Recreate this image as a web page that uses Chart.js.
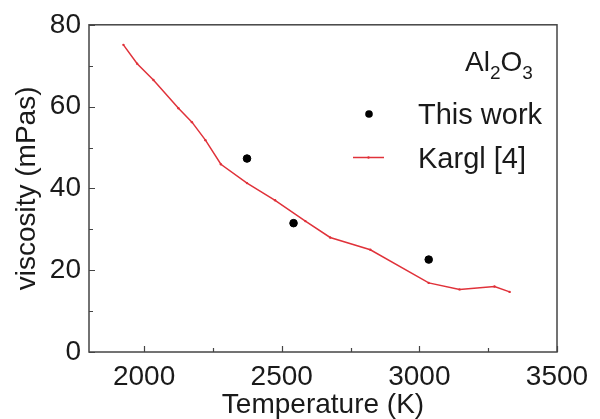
<!DOCTYPE html>
<html>
<head>
<meta charset="utf-8">
<script src="https://cdn.jsdelivr.net/npm/chart.js@4"></script>
<style>
    html, body { margin: 0; padding: 0; background: #fff; }
    #wrap { width: 600px; height: 419px; }
</style>
</head>
<body>
<div id="wrap"><canvas id="viscChart" width="600" height="419"></canvas></div>
<script>
// === Data ===
const karglTemp = [1925, 1975, 2034, 2125, 2174, 2223, 2279, 2374, 2476, 2586, 2676, 2822, 3034, 3146, 3273, 3328];
const karglVisc = [75.1, 70.5, 66.5, 59.6, 56.2, 51.8, 45.9, 41.3, 37.1, 32.0, 28.0, 25.0, 16.9, 15.3, 16.0, 14.7];

const workTemp = [2374, 2543, 3034];
const workVisc = [47.3, 31.5, 22.6];

const xMajorTicks = [2000, 2500, 3000, 3500];
const xMinorTicks = [2250, 2750, 3250];
const yMajorTicks = [0, 20, 40, 60, 80];
const yMinorTicks = [10, 30, 50, 70];

const FONT = "'Liberation Sans', Arial, sans-serif";
const TEXT_COLOR = "#1a1a1a";
const AXIS_COLOR = "#444";
const RED = "#e0323a";

function toPoints(xs, ys) {
    return xs.map((x, i) => ({ x: x, y: ys[i] }));
}

// ticks pointing inward + the box frame
const frameAndTicks = {
    id: "frameAndTicks",
    afterDraw(chart) {
        const ctx = chart.ctx;
        const area = chart.chartArea;
        const xs = chart.scales.x;
        const ys = chart.scales.y;
        ctx.save();
        ctx.strokeStyle = AXIS_COLOR;
        ctx.lineWidth = 1.5;
        ctx.strokeRect(area.left, area.top, area.right - area.left, area.bottom - area.top);

        ctx.lineWidth = 1.2;
        ctx.beginPath();
        xMajorTicks.forEach(v => {
            const px = Math.round(xs.getPixelForValue(v)) + 0.5;
            ctx.moveTo(px, area.bottom);
            ctx.lineTo(px, area.bottom - 6);
        });
        xMinorTicks.forEach(v => {
            const px = Math.round(xs.getPixelForValue(v)) + 0.5;
            ctx.moveTo(px, area.bottom);
            ctx.lineTo(px, area.bottom - 4);
        });
        yMajorTicks.forEach(v => {
            const py = Math.round(ys.getPixelForValue(v)) + 0.5;
            ctx.moveTo(area.left, py);
            ctx.lineTo(area.left + 6, py);
        });
        yMinorTicks.forEach(v => {
            const py = Math.round(ys.getPixelForValue(v)) + 0.5;
            ctx.moveTo(area.left, py);
            ctx.lineTo(area.left + 4, py);
        });
        ctx.stroke();
        ctx.restore();
    }
};

// sample label and legend in the upper right corner
const insetLegend = {
    id: "insetLegend",
    afterDraw(chart) {
        const ctx = chart.ctx;
        const work = chart.data.datasets[0];
        const kargl = chart.data.datasets[1];
        ctx.save();
        ctx.fillStyle = TEXT_COLOR;
        ctx.textBaseline = "alphabetic";
        ctx.textAlign = "left";

        // Al2O3 with subscripts
        let x = 465;
        const base = 71;
        ctx.font = "28px " + FONT;
        ctx.fillText("Al", x, base);
        x += ctx.measureText("Al").width;
        ctx.font = "19px " + FONT;
        ctx.fillText("2", x, base + 8);
        x += ctx.measureText("2").width;
        ctx.font = "28px " + FONT;
        ctx.fillText("O", x, base);
        x += ctx.measureText("O").width;
        ctx.font = "19px " + FONT;
        ctx.fillText("3", x, base + 8);

        // This work
        ctx.beginPath();
        ctx.arc(369, 114, work.pointRadius, 0, Math.PI * 2);
        ctx.fillStyle = work.backgroundColor;
        ctx.fill();
        ctx.fillStyle = TEXT_COLOR;
        ctx.font = "29px " + FONT;
        ctx.textBaseline = "middle";
        ctx.fillText(work.label, 418, 116);

        // Kargl [4]
        ctx.strokeStyle = kargl.borderColor;
        ctx.lineWidth = kargl.borderWidth;
        ctx.beginPath();
        ctx.moveTo(353, 157.5);
        ctx.lineTo(384, 157.5);
        ctx.stroke();
        ctx.beginPath();
        ctx.arc(368.5, 157.5, kargl.pointRadius, 0, Math.PI * 2);
        ctx.fillStyle = kargl.borderColor;
        ctx.fill();
        ctx.fillStyle = TEXT_COLOR;
        ctx.fillText(kargl.label, 418, 160);
        ctx.restore();
    }
};

const viscChart = new Chart(document.getElementById("viscChart"), {
    type: "scatter",
    data: {
        datasets: [
            {
                label: "This work",
                data: toPoints(workTemp, workVisc),
                backgroundColor: "#000",
                borderColor: "#000",
                pointRadius: 3.8,
                showLine: false
            },
            {
                label: "Kargl [4]",
                data: toPoints(karglTemp, karglVisc),
                borderColor: RED,
                backgroundColor: RED,
                borderWidth: 1.5,
                pointRadius: 1.2,
                pointBorderWidth: 0,
                showLine: true,
                tension: 0
            }
        ]
    },
    options: {
        responsive: false,
        animation: false,
        events: [],
        layout: { padding: { left: 0, top: 22, right: 43, bottom: 0 } },
        plugins: {
            legend: { display: false },
            tooltip: { enabled: false }
        },
        scales: {
            x: {
                type: "linear",
                min: 1800,
                max: 3500,
                afterBuildTicks: scale => {
                    scale.ticks = xMajorTicks.map(v => ({ value: v }));
                },
                afterFit: scale => { scale.height = 67; },
                grid: { display: false, drawTicks: false },
                border: { display: false },
                ticks: {
                    padding: 8,
                    color: TEXT_COLOR,
                    font: { family: FONT, size: 28 },
                    maxRotation: 0,
                    autoSkip: false,
                    callback: v => String(v)
                },
                title: {
                    display: true,
                    text: "Temperature (K)",
                    color: TEXT_COLOR,
                    font: { family: FONT, size: 28 },
                    padding: { top: 0, bottom: -3 }
                }
            },
            y: {
                type: "linear",
                min: 0,
                max: 80,
                afterBuildTicks: scale => {
                    scale.ticks = yMajorTicks.map(v => ({ value: v }));
                },
                afterFit: scale => { scale.width = 89; },
                grid: { display: false, drawTicks: false },
                border: { display: false },
                ticks: {
                    padding: 8,
                    color: TEXT_COLOR,
                    font: { family: FONT, size: 28 },
                    callback: v => String(v)
                },
                title: {
                    display: true,
                    text: "viscosity (mPas)",
                    color: TEXT_COLOR,
                    font: { family: FONT, size: 28 },
                    padding: { top: 10, bottom: 0 }
                }
            }
        }
    },
    plugins: [frameAndTicks, insetLegend]
});
</script>
</body>
</html>
